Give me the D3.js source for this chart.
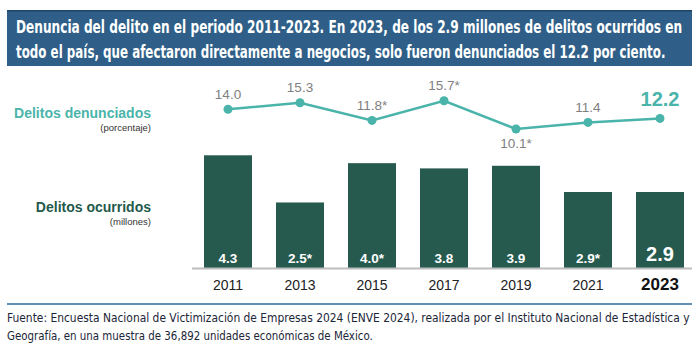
<!DOCTYPE html>
<html><head><meta charset="utf-8">
<script src="https://cdn.jsdelivr.net/npm/d3@7"></script>
<style>html,body{margin:0;padding:0;background:#fff;}svg{display:block;}</style>
</head><body>
<svg id="c" width="700" height="360"></svg>
<script>
const years = ["2011","2013","2015","2017","2019","2021","2023"];
const denunciados = [14.0, 15.3, 11.8, 15.7, 10.1, 11.4, 12.2];
const denunciadosLabels = ["14.0","15.3","11.8*","15.7*","10.1*","11.4","12.2"];
const ocurridos = [4.3, 2.5, 4.0, 3.8, 3.9, 2.9, 2.9];
const ocurridosLabels = ["4.3","2.5*","4.0*","3.8","3.9","2.9*","2.9"];
const titleLines = [
  "Denuncia del delito en el periodo 2011-2023. En 2023, de los 2.9 millones de delitos ocurridos en",
  "todo el país, que afectaron directamente a negocios, solo fueron denunciados el 12.2 por ciento."
];
const footerLines = [
  "Fuente: Encuesta Nacional de Victimización de Empresas 2024 (ENVE 2024), realizada por el Instituto Nacional de Estadística y",
  "Geografía, en una muestra de 36,892 unidades económicas de México."
];

const svg = d3.select("#c");
const teal = "#4ab4ab", green = "#265a4e";
const cond = "'DejaVu Sans Condensed','Liberation Sans Narrow',sans-serif";

// place text at (x0,y0), horizontally scaled to span the target width
function fitText(t, x0, y0, target, attrs) {
  const g = svg.append("g");
  const s = g.append("text").attr("x",0).attr("y",0).text(t);
  Object.entries(attrs).forEach(([k,v])=>s.attr(k,v));
  const w = s.node().getComputedTextLength();
  g.attr("transform",`translate(${x0},${y0}) scale(${(target/w).toFixed(4)},1)`);
}

// Title box
svg.append("rect").attr("x",7).attr("y",10).attr("width",685).attr("height",56).attr("fill","#2f5f88");
svg.append("rect").attr("x",7).attr("y",10).attr("width",685).attr("height",1.5).attr("fill","#1f4466");
const tw = [667, 650];
titleLines.forEach((t,i)=>{
  fitText(t, 16, 33+i*24.5, tw[i], {"font-family":cond,"font-weight":"bold","font-size":17,"fill":"#fff"});
});

const x = d3.scaleBand().domain(years).range([192,696]).paddingInner(1/3).paddingOuter(1/6);
const yLine = d3.scaleLinear().domain([10,16]).range([129.5,99.2]);
const yBar = d3.scaleLinear().domain([0,4.3]).range([268,155.3]);
const cx = d => x(d) + x.bandwidth()/2;

// Series titles
const ff = "'Liberation Sans',Arial,sans-serif";
svg.append("text").attr("x",151).attr("y",118).attr("text-anchor","end").attr("font-family",ff)
  .attr("font-weight","bold").attr("font-size",14).attr("fill",teal).text("Delitos denunciados");
svg.append("text").attr("x",151).attr("y",131).attr("text-anchor","end").attr("font-family",ff)
  .attr("font-size",9.5).attr("fill","#333").text("(porcentaje)");
svg.append("text").attr("x",151).attr("y",212).attr("text-anchor","end").attr("font-family",ff)
  .attr("font-weight","bold").attr("font-size",14).attr("fill","#1f5a4a").text("Delitos ocurridos");
svg.append("text").attr("x",151).attr("y",225).attr("text-anchor","end").attr("font-family",ff)
  .attr("font-size",9.5).attr("fill","#333").text("(millones)");

// Bars
svg.selectAll("rect.bar").data(ocurridos).enter().append("rect").attr("class","bar")
  .attr("x",(d,i)=>x(years[i])).attr("width",x.bandwidth())
  .attr("y",d=>yBar(d)).attr("height",d=>yBar(0)-yBar(d)).attr("fill",green);
svg.selectAll("text.bl").data(ocurridosLabels).enter().append("text").attr("class","bl")
  .attr("x",(d,i)=>cx(years[i])).attr("y",(d,i)=>i===6?261:263).attr("text-anchor","middle")
  .attr("font-family",ff).attr("font-weight","bold").attr("font-size",(d,i)=>i===6?20:13.5)
  .attr("fill","#fff").text(d=>d);

// Axis baseline
svg.append("line").attr("x1",192).attr("x2",692).attr("y1",268.5).attr("y2",268.5)
  .attr("stroke","#bdbdbd").attr("stroke-width",2);

// Year labels via axis
const ax = svg.append("g").attr("transform","translate(0,269)")
  .call(d3.axisBottom(x).tickSize(0).tickPadding(22));
ax.select(".domain").remove();
ax.selectAll("text").attr("font-family",ff).attr("font-size",d=>d==="2023"?17:14)
  .attr("font-weight",d=>d==="2023"?"bold":"normal").attr("fill",d=>d==="2023"?"#111":"#222")
  .attr("dy",0).attr("y",21);

// Line
const line = d3.line().x((d,i)=>cx(years[i])).y(d=>yLine(d));
svg.append("path").datum(denunciados).attr("d",line).attr("fill","none")
  .attr("stroke",teal).attr("stroke-width",2.5);
svg.selectAll("circle.pt").data(denunciados).enter().append("circle").attr("class","pt")
  .attr("cx",(d,i)=>cx(years[i])).attr("cy",d=>yLine(d)).attr("r",4.5).attr("fill",teal);
svg.selectAll("text.ll").data(denunciadosLabels).enter().append("text").attr("class","ll")
  .attr("x",(d,i)=>cx(years[i]))
  .attr("y",(d,i)=> i===4 ? yLine(denunciados[i])+19 : (i===6 ? yLine(denunciados[i])-12 : yLine(denunciados[i])-10.5))
  .attr("text-anchor","middle").attr("font-family",ff)
  .attr("font-size",(d,i)=>i===6?20:13.5).attr("font-weight",(d,i)=>i===6?"bold":"normal")
  .attr("fill",(d,i)=>i===6?teal:"#808080").text(d=>d);

// Footer
svg.append("line").attr("x1",7).attr("x2",692).attr("y1",304).attr("y2",304)
  .attr("stroke","#2f6b9c").attr("stroke-width",1.5);
const fw = [683, 366];
footerLines.forEach((t,i)=>{
  fitText(t, 7, 322+i*17.5, fw[i], {"font-family":cond,"font-size":13,"fill":"#1b2638"});
});
</script>
</body></html>
